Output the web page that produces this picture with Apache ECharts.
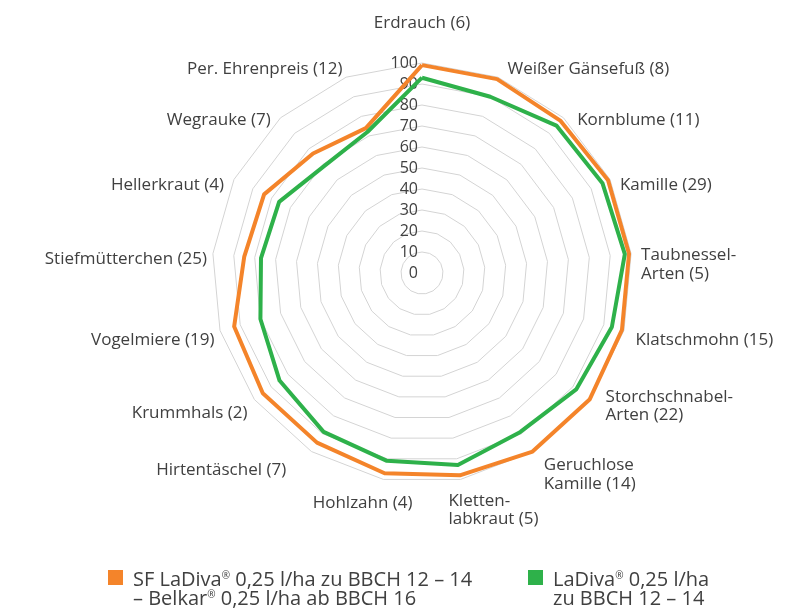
<!DOCTYPE html>
<html>
<head>
<meta charset="utf-8">
<script src="https://cdn.jsdelivr.net/npm/echarts@6/dist/echarts.min.js"></script>
<style>
  html, body { margin: 0; padding: 0; background: #fff; }
  #chart1 { width: 793px; height: 612px; }
</style>
</head>
<body>
<div id="chart1"></div>
<script>
// categories in clockwise order, starting at the top
var categories = [
    'Erdrauch (6)', 'Weißer Gänsefuß (8)', 'Kornblume (11)', 'Kamille (29)',
    'Taubnessel-\nArten (5)', 'Klatschmohn (15)', 'Storchschnabel-\nArten (22)',
    'Geruchlose\nKamille (14)', 'Kletten-\nlabkraut (5)', 'Hohlzahn (4)',
    'Hirtentäschel (7)', 'Krummhals (2)', 'Vogelmiere (19)', 'Stiefmütterchen (25)',
    'Hellerkraut (4)', 'Wegrauke (7)', 'Per. Ehrenpreis (12)'
];
var seriesNames = [
    'SF LaDiva® 0,25 l/ha zu BBCH 12 – 14\n– Belkar® 0,25 l/ha ab BBCH 16',
    'LaDiva® 0,25 l/ha\nzu BBCH 12 – 14'
];
var sfLadivaBelkar = [99, 99, 98, 99, 99, 99, 100, 100, 98, 97, 95, 95, 93, 85, 84, 77, 74];
var ladiva = [93, 90, 95, 96, 97, 94, 92, 89, 93, 91, 89, 85, 80, 77, 76, 69, 72];
var tickValues = [0, 10, 20, 30, 40, 50, 60, 70, 80, 90, 100];

// small per-label nudges [dx, dy] so the names sit where the original puts them
var labelNudge = [
    [0, -18], [6, 0], [7, 8], [1, 9], [0, 11], [2, 5], [8, 0], [6, 14], [-14, 20],
    [31, 12], [-20, 9], [1, 6], [4, 5], [4, 5], [-1, 9], [-3, 8], [0, 0]
];

// echarts places radar indicators counter-clockwise, so flip everything after the first
function ccw(arr) {
    return [arr[0]].concat(arr.slice(1).reverse());
}

var txt = '#404040';
var font = 'Open Sans';
var nameSize = 17;
var lh = 20;

var indicators = ccw(categories).map(function (name, i) {
    var ind = {name: name, min: tickValues[0], max: tickValues[tickValues.length - 1]};
    if (i > 0) {
        ind.axisLabel = {show: false};
    }
    return ind;
});

// rich styles for the axis names
var nameRich = {};
categories.forEach(function (name, k) {
    var dx = labelNudge[k][0], dy = labelNudge[k][1];
    var pad = [0, 0, 0, 0];
    if (k >= 1 && k <= 8) pad = [0, 0, 0, dx];
    else if (k > 8) pad = [0, -dx, 0, 0];
    var base = {fontFamily: font, fontSize: nameSize, color: txt, padding: pad};
    nameRich['a' + k] = Object.assign({}, base, {
        lineHeight: lh + Math.abs(dy) * (k === 0 ? 1 : 2),
        verticalAlign: dy < 0 ? 'top' : 'bottom'
    });
    nameRich['b' + k] = Object.assign({}, base, {lineHeight: lh});
});

function nameFormatter(name) {
    var k = categories.indexOf(name);
    return name.split('\n').map(function (line, j) {
        return '{' + (j === 0 ? 'a' : 'b') + k + '|' + line + '}';
    }).join('\n');
}

function legendText(name) {
    return name.replace(/®/g, '{sup|®}');
}

function legendStyle() {
    return {
        color: txt,
        fontFamily: font,
        fontSize: 20,
        lineHeight: 19,
        padding: [25, 0, 0, 5],
        rich: {
            sup: {fontSize: 10, lineHeight: 19, padding: [0, 0, 9, 0], color: txt, fontFamily: font}
        }
    };
}

var dom = document.getElementById('chart1');
var myChart = echarts.init(dom);

var option = {
    animation: false,
    color: ['#F4842A', '#2EB14A'],
    radar: {
        center: [422, 273],
        radius: 210,
        startAngle: 90,
        shape: 'polygon',
        splitNumber: tickValues.length - 1,
        indicator: indicators,
        nameGap: 10,
        axisName: {
            color: txt,
            fontFamily: font,
            fontSize: nameSize,
            lineHeight: lh,
            formatter: nameFormatter,
            rich: nameRich
        },
        axisLine: {show: false},
        axisTick: {show: false},
        axisLabel: {
            show: true,
            color: txt,
            fontFamily: font,
            fontSize: 16,
            margin: 4
        },
        splitLine: {
            lineStyle: {color: '#d4d4d4', width: 1}
        },
        splitArea: {show: false}
    },
    legend: [
        {
            data: [seriesNames[0]],
            left: 108,
            top: 546,
            padding: 0,
            icon: 'rect',
            itemWidth: 15,
            itemHeight: 15,
            formatter: legendText,
            textStyle: legendStyle()
        },
        {
            data: [seriesNames[1]],
            left: 528,
            top: 546,
            padding: 0,
            icon: 'rect',
            itemWidth: 15,
            itemHeight: 15,
            formatter: legendText,
            textStyle: legendStyle()
        }
    ],
    series: [
        {
            type: 'radar',
            symbol: 'none',
            lineStyle: {width: 4},
            data: [
                {name: seriesNames[0], value: ccw(sfLadivaBelkar)},
                {name: seriesNames[1], value: ccw(ladiva)}
            ],
            colorBy: 'data'
        }
    ]
};

if (option && typeof option === "object") {
    myChart.setOption(option, true);
}
</script>
</body>
</html>
